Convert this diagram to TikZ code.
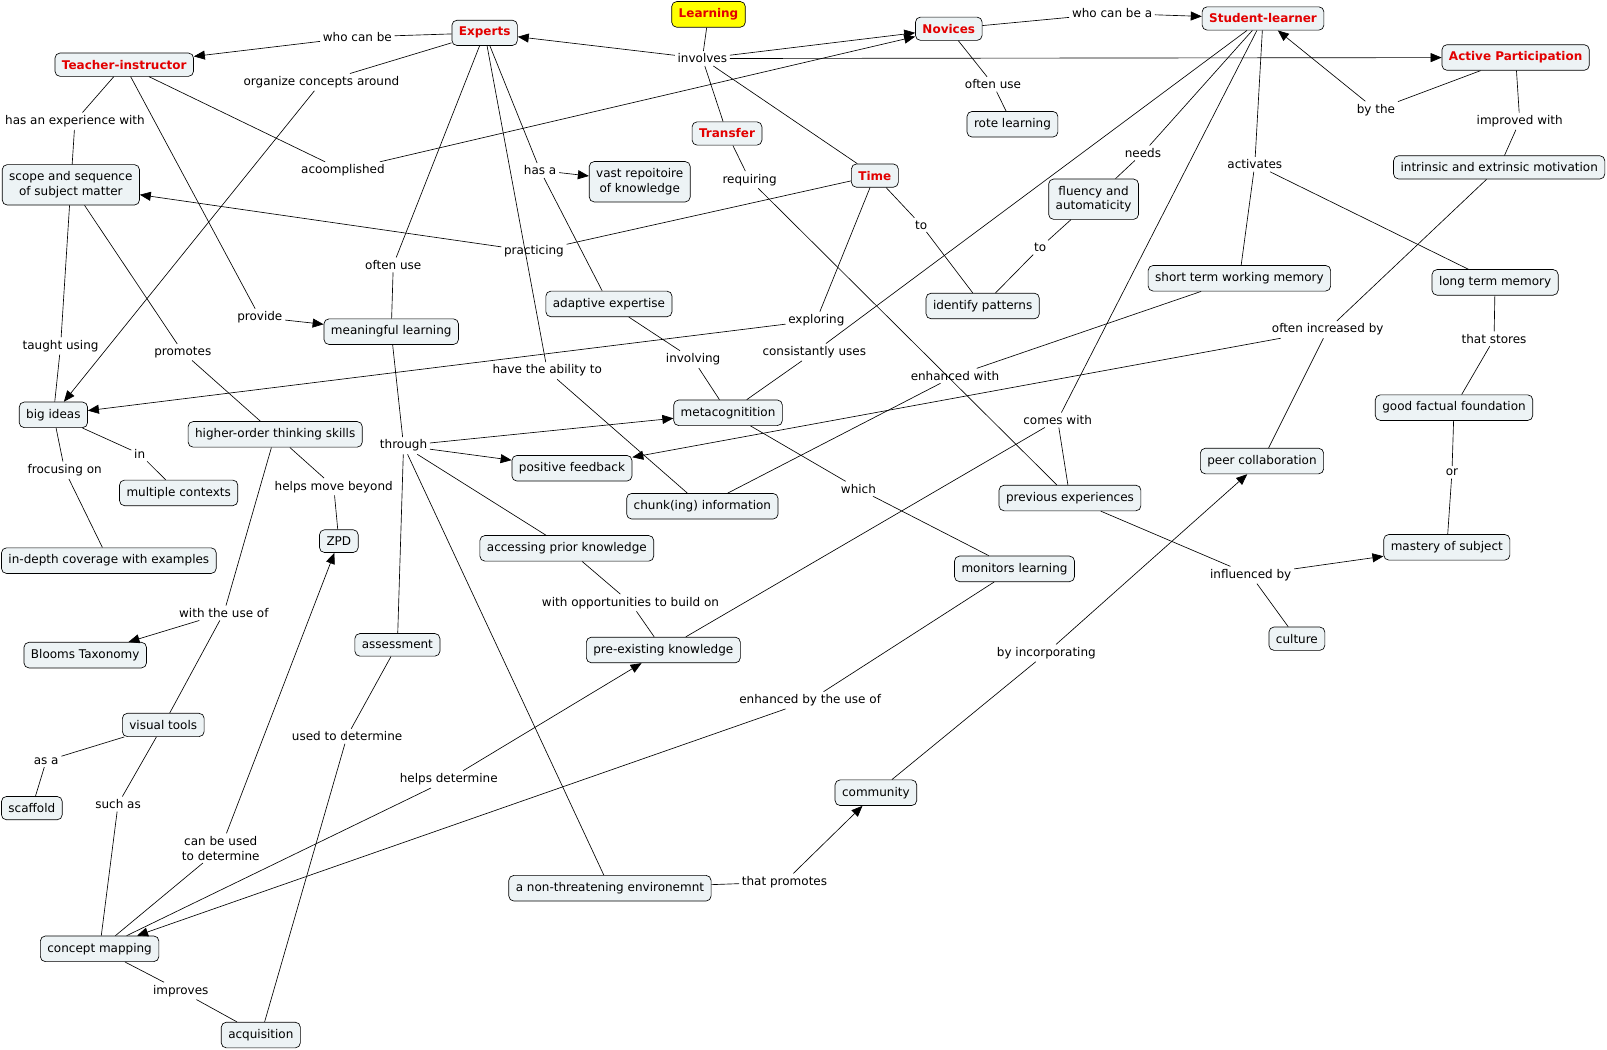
\documentclass[tikz,border=0pt]{standalone}
\usepackage{fontspec}
\setmainfont{DejaVu Sans}
\usepackage{tikz}
\usetikzlibrary{arrows.meta}
\definecolor{conceptfill}{RGB}{237,243,245}
\definecolor{keyred}{RGB}{226,0,0}
\definecolor{learnyellow}{RGB}{255,255,0}

\begin{document}
\begin{tikzpicture}[x=1.0268pt,y=-1.0268pt,>={Triangle[length=11pt,width=9pt]},
                    line width=0.65pt,font=\fontsize{12}{14.8}\selectfont]
\tikzstyle{concept}=[draw,rounded corners=5pt,fill=conceptfill,
                     inner xsep=7pt,inner ysep=7pt,align=center]
\tikzstyle{key}=[concept,text=keyred,font=\fontsize{12}{14.8}\selectfont\bfseries]
\tikzstyle{link}=[inner sep=2.5pt,align=center]
\useasboundingbox (0,0) rectangle (1565,1021.6);
% concepts
\path
(690,14) node[key,fill=learnyellow] (learn) {Learning}
(472,32) node[key] (expert) {Experts}
(924,28) node[key] (novice) {Novices}
(1230,18) node[key] (student) {Student-learner}
(1476,56) node[key] (active) {Active Participation}
(121,63) node[key] (teacher) {Teacher-instructor}
(708,130) node[key] (transfer) {Transfer}
(852,171) node[key] (time) {Time}
(986,121) node[concept] (rote) {rote learning}
(623,177) node[concept] (vast) {vast repoitoire\\of knowledge}
(69,180) node[concept] (scope) {scope and sequence\\of subject matter}
(1065,194) node[concept] (fluency) {fluency and\\automaticity}
(1460,163) node[concept] (motiv) {intrinsic and extrinsic motivation}
(1207,271) node[concept] (stm) {short term working memory}
(1456,275) node[concept] (ltm) {long term memory}
(957,298) node[concept] (pattern) {identify patterns}
(593,296) node[concept] (adapt) {adaptive expertise}
(381,323) node[concept] (meaning) {meaningful learning}
(52,404) node[concept] (bigidea) {big ideas}
(268,423) node[concept] (hots) {higher-order thinking skills}
(709,402) node[concept] (metacog) {metacognitition}
(557,456) node[concept] (feedback) {positive feedback}
(684,493) node[concept] (chunk) {chunk(ing) information}
(1042,485) node[concept] (prevexp) {previous experiences}
(1229,449) node[concept] (peer) {peer collaboration}
(1416,397) node[concept] (factual) {good factual foundation}
(174,480) node[concept] (contexts) {multiple contexts}
(330,527) node[concept] (zpd) {ZPD}
(552,534) node[concept] (access) {accessing prior knowledge}
(988,554) node[concept] (monitor) {monitors learning}
(1409,533) node[concept] (mastery) {mastery of subject}
(106,546) node[concept] (indepth) {in-depth coverage with examples}
(1263,622) node[concept] (culture) {culture}
(646,633) node[concept] (preexist) {pre-existing knowledge}
(387,628) node[concept] (assess) {assessment}
(83,638) node[concept] (blooms) {Blooms Taxonomy}
(159,706) node[concept] (visual) {visual tools}
(31,787) node[concept] (scaffold) {scaffold}
(853,772) node[concept] (community) {community}
(594,865) node[concept] (nonthreat) {a non-threatening environemnt}
(97,924) node[concept] (cmap) {concept mapping}
(254,1008) node[concept] (acquis) {acquisition};

% linking phrases
\path
(348,36) node[link] (whocan) {who can be}
(684,57) node[link] (involves) {involves}
(313,80) node[link] (organize) {organize concepts around}
(73,118) node[link] (hasexp) {has an experience with}
(334,166) node[link] (acoomp) {acoomplished}
(526,166) node[link] (hasa) {has a}
(730,175) node[link] (requiring) {requiring}
(520,245) node[link] (practicing) {practicing}
(383,258) node[link] (oftenuseE) {often use}
(253,309) node[link] (provide) {provide}
(897,219) node[link] (toA) {to}
(1013,241) node[link] (toB) {to}
(1113,149) node[link] (needs) {needs}
(1222,160) node[link] (activates) {activates}
(1340,107) node[link] (bythe) {by the}
(1480,118) node[link] (improved) {improved with}
(1083,13) node[link] (whocana) {who can be a}
(967,82) node[link] (oftenuseN) {often use}
(795,312) node[link] (exploring) {exploring}
(793,343) node[link] (consist) {consistantly uses}
(675,350) node[link] (involving) {involving}
(533,361) node[link] (ability) {have the ability to}
(59,337) node[link] (taught) {taught using}
(178,343) node[link] (promotes) {promotes}
(1293,321) node[link] (increased) {often increased by}
(1455,330) node[link] (stores) {that stores}
(930,366) node[link] (enhwith) {enhanced with}
(1030,409) node[link] (comes) {comes with}
(393,434) node[link] (through) {through}
(136,442) node[link] (inctx) {in}
(63,458) node[link] (frocus) {frocusing on}
(836,476) node[link] (which) {which}
(325,474) node[link] (beyond) {helps move beyond}
(1414,460) node[link] (orlink) {or}
(1218,560) node[link] (influenced) {influenced by}
(614,587) node[link] (buildon) {with opportunities to build on}
(218,597) node[link] (withuse) {with the use of}
(1019,636) node[link] (incorp) {by incorporating}
(789,682) node[link] (enhuse) {enhanced by the use of}
(338,717) node[link] (usedto) {used to determine}
(45,741) node[link] (asa) {as a}
(437,759) node[link] (helps) {helps determine}
(115,783) node[link] (suchas) {such as}
(215,826) node[link] (canbe) {can be used\\to determine}
(764,859) node[link] (thatprom) {that promotes}
(176,965) node[link] (improves) {improves};

% connectors
\path (learn) edge (involves)
      (involves) edge[->] (expert) edge[->] (novice) edge[->] (active)
                 edge (transfer) edge (time)
      (expert) edge (whocan) edge (organize) edge (oftenuseE)
               edge (hasa) edge (ability)
      (whocan) edge[->] (teacher)
      (organize) edge[->] (bigidea)
      (oftenuseE) edge (meaning)
      (hasa) edge[->] (vast) edge (adapt)
      (ability) edge (chunk)
      (teacher) edge (hasexp) edge (acoomp) edge (provide)
      (hasexp) edge (scope)
      (acoomp) edge[->] (novice)
      (provide) edge[->] (meaning)
      (novice) edge (whocana) edge (oftenuseN)
      (whocana) edge[->] (student)
      (oftenuseN) edge (rote)
      (student) edge (consist) edge (needs) edge (comes) edge (activates)
      (consist) edge (metacog)
      (needs) edge (fluency)
      (comes) edge (prevexp) edge (preexist)
      (activates) edge (stm) edge (ltm)
      (active) edge (bythe) edge (improved)
      (bythe) edge[->] (student)
      (improved) edge (motiv)
      (transfer) edge (requiring)
      (requiring) edge (prevexp)
      (time) edge (practicing) edge (toA) edge (exploring)
      (practicing) edge[->] (scope)
      (toA) edge (pattern)
      (exploring) edge[->] (bigidea)
      (fluency) edge (toB)
      (toB) edge (pattern)
      (motiv) edge (increased)
      (increased) edge[->] (feedback) edge (peer)
      (ltm) edge (stores)
      (stores) edge (factual)
      (factual) edge (orlink)
      (orlink) edge (mastery)
      (stm) edge (enhwith)
      (enhwith) edge (chunk)
      (adapt) edge (involving)
      (involving) edge (metacog)
      (metacog) edge (which)
      (which) edge (monitor)
      (meaning) edge (through)
      (through) edge[->] (metacog) edge[->] (feedback)
                edge (access) edge (assess) edge (nonthreat)
      (scope) edge (taught) edge (promotes)
      (taught) edge (bigidea)
      (promotes) edge (hots)
      (bigidea) edge (inctx) edge (frocus)
      (inctx) edge (contexts)
      (frocus) edge (indepth)
      (hots) edge (beyond) edge (withuse)
      (beyond) edge (zpd)
      (withuse) edge[->] (blooms) edge (visual)
      (access) edge (buildon)
      (buildon) edge (preexist)
      (prevexp) edge (influenced)
      (influenced) edge[->] (mastery) edge (culture)
      (community) edge (incorp)
      (incorp) edge[->] (peer)
      (monitor) edge (enhuse)
      (enhuse) edge[->] (cmap)
      (cmap) edge (helps) edge (improves) edge (canbe)
      (helps) edge[->] (preexist)
      (canbe) edge[->] (zpd)
      (improves) edge (acquis)
      (nonthreat) edge (thatprom)
      (thatprom) edge[->] (community)
      (assess) edge (usedto)
      (usedto) edge (acquis)
      (visual) edge (suchas) edge (asa)
      (suchas) edge (cmap)
      (asa) edge (scaffold);
\end{tikzpicture}
\end{document}
